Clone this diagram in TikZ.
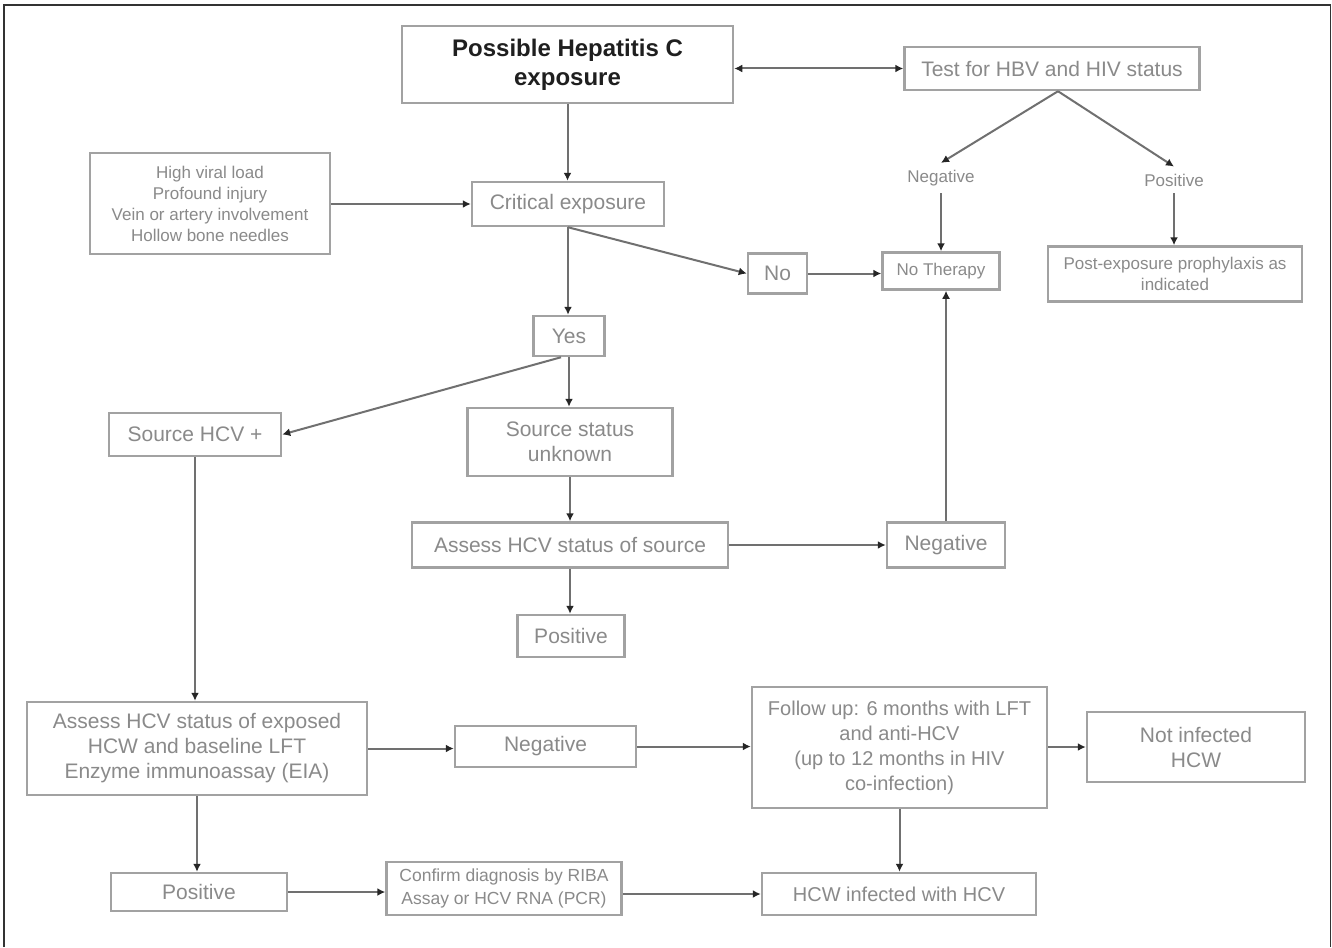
\documentclass[tikz,border=0pt]{standalone}
\usepackage{fontspec}
\setmainfont{Liberation Sans}
\usetikzlibrary{arrows.meta}
\definecolor{boxgray}{HTML}{A2A2A2}
\definecolor{txtgray}{HTML}{8A8A8A}
\definecolor{lngray}{HTML}{707070}
\definecolor{framec}{HTML}{333333}
\tikzset{
  bx/.style={draw=boxgray, line width=2.5pt, inner sep=2pt, align=center, text=txtgray,
    font=\fontsize{21}{25}\selectfont},
  sm/.style={font=\fontsize{17}{21}\selectfont},
  lbl/.style={inner sep=7pt, text=txtgray, font=\fontsize{17}{21}\selectfont},
  tip/.style={},
  arr/.style={draw=lngray, line width=2pt, -{Latex[length=8pt,width=8pt,color=black!85]}},
  darr/.style={draw=lngray, line width=2pt, {Latex[length=8pt,width=8pt,color=black!85]}-{Latex[length=8pt,width=8pt,color=black!85]}}
}
\begin{document}
\begin{tikzpicture}[x=1pt,y=-1pt]
\useasboundingbox (0,0) rectangle (1332,947);
\fill[white] (0,0) rectangle (1332,947);
\draw[framec, line width=1.5pt] (4,947) -- (4,5) -- (1330.5,5) -- (1330.5,947);

% nodes
\node[bx, minimum width=331pt, minimum height=77pt, text=black!88, font=\bfseries\fontsize{24}{29}\selectfont] (poss) at (567.5,64.5) {Possible Hepatitis C\\exposure};
\node[bx, minimum width=295pt, minimum height=43pt] (test) at (1052,68.5) {Test for HBV and HIV status};
\node[bx, sm, minimum width=240pt, minimum height=101pt] (risk) at (210,203.5) {High viral load\\Profound injury\\Vein or artery involvement\\Hollow bone needles};
\node[bx, minimum width=192pt, minimum height=44pt] (crit) at (568,204) {Critical exposure};
\node[lbl] (negl) at (941,178) {Negative};
\node[lbl] (posl) at (1174,180) {Positive};
\node[bx, minimum width=59pt, minimum height=40pt] (no) at (777.5,273.5) {No};
\node[bx, sm, minimum width=117pt, minimum height=37pt] (nother) at (941,271) {No Therapy};
\node[bx, sm, minimum width=254pt, minimum height=55pt] (post) at (1175,274) {Post-exposure prophylaxis as\\indicated};
\node[bx, minimum width=71pt, minimum height=40pt] (yes) at (569,336) {Yes};
\node[bx, minimum width=172pt, minimum height=43pt] (shcv) at (195,434.5) {Source HCV +};
\node[bx, minimum width=205pt, minimum height=68pt] (sunk) at (570,442) {Source status\\unknown};
\node[bx, minimum width=316pt, minimum height=45pt] (asrc) at (570,545) {Assess HCV status of source};
\node[bx, minimum width=118pt, minimum height=45pt] (neg2) at (946,545) {Negative};
\node[bx, minimum width=107pt, minimum height=42pt] (pos2) at (571,636) {Positive};
\node[bx, minimum width=340pt, minimum height=93pt] (aexp) at (197,748.5) {Assess HCV status of exposed\\HCW and baseline LFT\\Enzyme immunoassay (EIA)};
\node[bx, minimum width=181pt, minimum height=41pt] (neg3) at (545.5,746.5) {Negative};
\node[bx, minimum width=295pt, minimum height=121pt, font=\fontsize{20}{25}\selectfont] (fup) at (899.5,747.5) {Follow up: 6 months with LFT\\and anti-HCV\\(up to 12 months in HIV\\co-infection)};
\node[bx, minimum width=218pt, minimum height=70pt] (notinf) at (1196,747) {Not infected\\HCW};
\node[bx, minimum width=176pt, minimum height=38pt] (pos3) at (199,892) {Positive};
\node[bx, minimum width=235pt, minimum height=53pt, font=\fontsize{17.5}{23}\selectfont] (conf) at (504,888.5) {Confirm diagnosis by RIBA\\Assay or HCV RNA (PCR)};
\node[bx, minimum width=274pt, minimum height=42pt, font=\fontsize{20}{24}\selectfont] (hcwi) at (899,894) {HCW infected with HCV};

% connectors
\draw[darr] (poss.east |- test.west) -- (test.west);
\draw[arr] (poss.south) -- (poss.south |- crit.north);
\draw[arr] (risk.east |- crit.west) -- (crit.west);
\draw[arr] ([xshift=6pt]test.south) -- (negl.north);
\draw[arr] ([xshift=6pt]test.south) -- (posl.north);
\draw[arr] (negl.south) -- (negl.south |- nother.north);
\draw[arr] (posl.south) -- (posl.south |- post.north);
\draw[arr] (crit.south) -- (no.west);
\draw[arr] (no.east) -- (no.east -| nother.west);
\draw[arr] (crit.south) -- (crit.south |- yes.north);
\draw[arr] ([xshift=-8pt]yes.south) -- (shcv.east);
\draw[arr] (yes.south) -- (yes.south |- sunk.north);
\draw[arr] (sunk.south) -- (sunk.south |- asrc.north);
\draw[arr] (asrc.east) -- (neg2.west);
\draw[arr] (neg2.north) -- (neg2.north |- nother.south);
\draw[arr] (asrc.south) -- (asrc.south |- pos2.north);
\draw[arr] (shcv.south) -- (shcv.south |- aexp.north);
\draw[arr] (aexp.east) -- (aexp.east -| neg3.west);
\draw[arr] (neg3.east) -- (neg3.east -| fup.west);
\draw[arr] (fup.east |- notinf.west) -- (notinf.west);
\draw[arr] (fup.south) -- (fup.south |- hcwi.north);
\draw[arr] (aexp.south) -- (aexp.south |- pos3.north);
\draw[arr] (pos3.east) -- (pos3.east -| conf.west);
\draw[arr] (hcwi.west -| conf.east) -- (hcwi.west);
\end{tikzpicture}
\end{document}
